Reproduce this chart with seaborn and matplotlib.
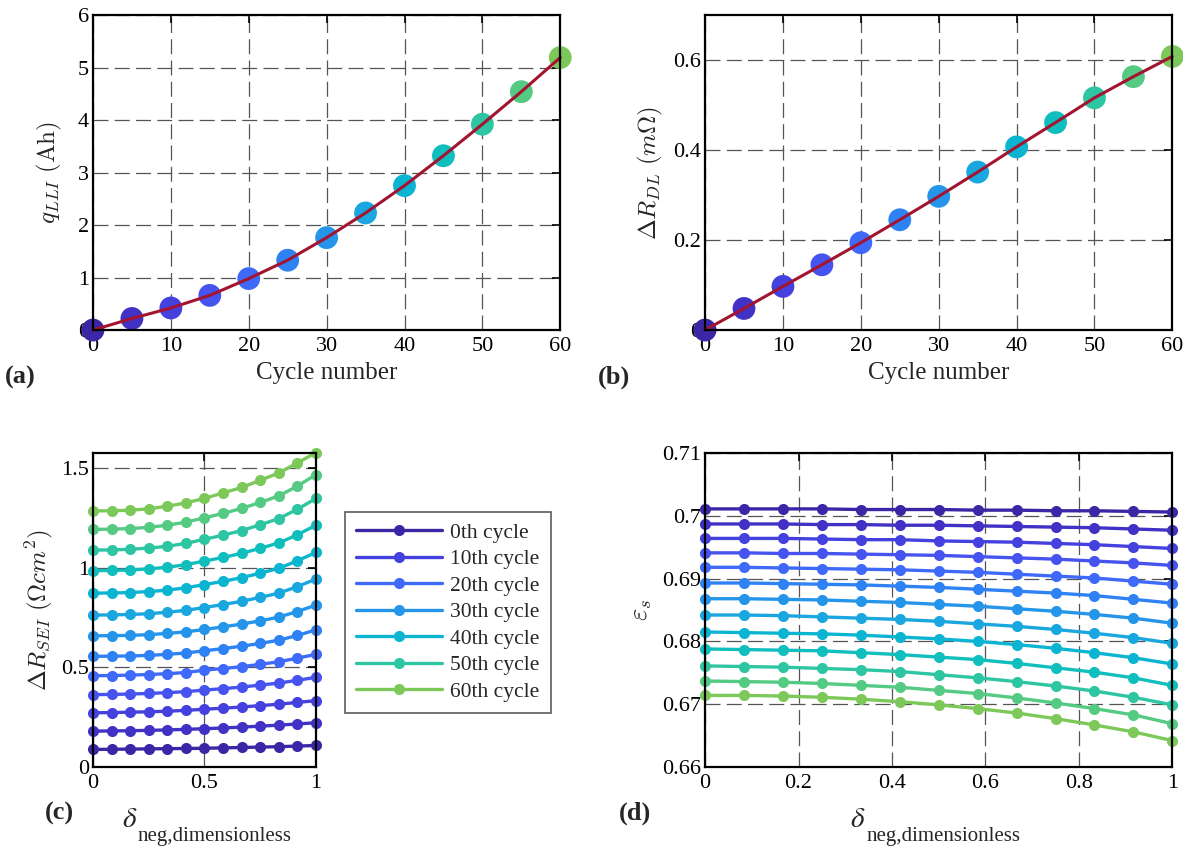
import numpy as np
import pandas as pd
import matplotlib
matplotlib.use("Agg")
import matplotlib.pyplot as plt
import seaborn as sns

# ---------------- data ----------------
cycles = [0, 5, 10, 15, 20, 25, 30, 35, 40, 45, 50, 55, 60]
q_lli = [0.0, 0.22, 0.42, 0.66, 0.98, 1.33, 1.76, 2.23, 2.75, 3.32, 3.92, 4.54, 5.19]
dR_dl = [0.0, 0.048, 0.097, 0.145, 0.194, 0.245, 0.297, 0.351, 0.407, 0.461, 0.516, 0.563, 0.608]

delta_neg = [0, 1/12, 2/12, 3/12, 4/12, 5/12, 6/12, 7/12, 8/12, 9/12, 10/12, 11/12, 1]

dR_sei = {
    0:  [0.088, 0.089, 0.090, 0.091, 0.092, 0.093, 0.094, 0.096, 0.098, 0.100, 0.102, 0.105, 0.108],
    5:  [0.180, 0.181, 0.182, 0.184, 0.186, 0.189, 0.192, 0.196, 0.200, 0.205, 0.210, 0.216, 0.222],
    10: [0.272, 0.273, 0.275, 0.277, 0.280, 0.284, 0.290, 0.295, 0.301, 0.308, 0.315, 0.324, 0.333],
    15: [0.363, 0.364, 0.366, 0.369, 0.373, 0.378, 0.386, 0.393, 0.401, 0.411, 0.421, 0.435, 0.450],
    20: [0.458, 0.459, 0.461, 0.464, 0.468, 0.474, 0.486, 0.494, 0.503, 0.515, 0.528, 0.546, 0.565],
    25: [0.555, 0.556, 0.557, 0.560, 0.565, 0.572, 0.583, 0.594, 0.606, 0.620, 0.636, 0.660, 0.688],
    30: [0.658, 0.659, 0.660, 0.664, 0.670, 0.678, 0.690, 0.703, 0.717, 0.733, 0.752, 0.780, 0.812],
    35: [0.762, 0.763, 0.765, 0.769, 0.776, 0.786, 0.800, 0.815, 0.831, 0.851, 0.872, 0.905, 0.943],
    40: [0.872, 0.873, 0.875, 0.880, 0.887, 0.899, 0.915, 0.931, 0.950, 0.972, 0.997, 1.034, 1.077],
    45: [0.985, 0.986, 0.988, 0.994, 1.002, 1.015, 1.033, 1.051, 1.072, 1.097, 1.124, 1.165, 1.213],
    50: [1.088, 1.089, 1.092, 1.098, 1.107, 1.122, 1.142, 1.163, 1.186, 1.215, 1.246, 1.293, 1.347],
    55: [1.192, 1.193, 1.196, 1.202, 1.213, 1.228, 1.250, 1.272, 1.297, 1.327, 1.360, 1.409, 1.467],
    60: [1.285, 1.285, 1.288, 1.295, 1.308, 1.325, 1.347, 1.375, 1.402, 1.438, 1.475, 1.525, 1.577],
}

eps_s = {
    0:  [0.7011, 0.7011, 0.7011, 0.7011, 0.7010, 0.7010, 0.7010, 0.7009, 0.7009, 0.7008, 0.7008, 0.7007, 0.7006],
    5:  [0.6987, 0.6987, 0.6987, 0.6986, 0.6986, 0.6985, 0.6985, 0.6984, 0.6983, 0.6982, 0.6981, 0.6979, 0.6977],
    10: [0.6964, 0.6964, 0.6964, 0.6963, 0.6962, 0.6962, 0.6960, 0.6959, 0.6958, 0.6956, 0.6954, 0.6951, 0.6948],
    15: [0.6941, 0.6941, 0.6940, 0.6940, 0.6939, 0.6938, 0.6937, 0.6935, 0.6933, 0.6931, 0.6928, 0.6925, 0.6921],
    20: [0.6918, 0.6918, 0.6917, 0.6916, 0.6915, 0.6914, 0.6912, 0.6910, 0.6907, 0.6904, 0.6901, 0.6896, 0.6891],
    25: [0.6893, 0.6893, 0.6892, 0.6891, 0.6890, 0.6888, 0.6886, 0.6883, 0.6880, 0.6877, 0.6873, 0.6867, 0.6861],
    30: [0.6868, 0.6868, 0.6867, 0.6866, 0.6864, 0.6862, 0.6859, 0.6856, 0.6852, 0.6848, 0.6843, 0.6837, 0.6829],
    35: [0.6842, 0.6842, 0.6841, 0.6839, 0.6837, 0.6835, 0.6832, 0.6828, 0.6824, 0.6819, 0.6813, 0.6806, 0.6797],
    40: [0.6815, 0.6814, 0.6813, 0.6812, 0.6810, 0.6807, 0.6804, 0.6800, 0.6795, 0.6789, 0.6782, 0.6774, 0.6764],
    45: [0.6788, 0.6787, 0.6786, 0.6785, 0.6782, 0.6779, 0.6775, 0.6771, 0.6765, 0.6758, 0.6751, 0.6742, 0.6730],
    50: [0.6761, 0.6760, 0.6759, 0.6757, 0.6755, 0.6752, 0.6747, 0.6742, 0.6736, 0.6729, 0.6721, 0.6711, 0.6699],
    55: [0.6737, 0.6736, 0.6735, 0.6733, 0.6730, 0.6727, 0.6722, 0.6717, 0.6710, 0.6702, 0.6693, 0.6683, 0.6669],
    60: [0.6714, 0.6714, 0.6713, 0.6711, 0.6708, 0.6704, 0.6699, 0.6693, 0.6686, 0.6677, 0.6667, 0.6656, 0.6642],
}

legend_cycles = [0, 10, 20, 30, 40, 50, 60]
legend_labels = ["0th cycle", "10th cycle", "20th cycle", "30th cycle",
                 "40th cycle", "50th cycle", "60th cycle"]

colors = ["#3b27a6", "#4131c4", "#4541de", "#4653ef", "#3f69f9", "#2f82f4", "#2595e9",
          "#1aa7df", "#0bb5d2", "#10bebd", "#2ec5a2", "#55ca83", "#7cc95a"]
palette = dict(zip(cycles, colors))
line_red = "#a2142f"

# ---------------- style ----------------
sns.set_style("white")
plt.rcParams["font.family"] = ["Liberation Serif", "DejaVu Serif"]
plt.rcParams["axes.linewidth"] = 1.5
plt.rcParams["xtick.direction"] = "in"
plt.rcParams["ytick.direction"] = "in"

TICK_FS = 16
LAB_FS = 18

fig = plt.figure(figsize=(11.83, 8.48), dpi=100)
W = 0.395
axA = fig.add_axes([0.0786, 0.6108, W, 0.3715])
axB = fig.add_axes([0.596, 0.6108, W, 0.3715])
axC = fig.add_axes([0.0786, 0.0955, 0.1885, 0.3703])
axD = fig.add_axes([0.596, 0.0955, W, 0.3703])


def style_axes(ax):
    ax.grid(True, color="#555555", linestyle=(0, (12, 5)), linewidth=0.9)
    ax.set_axisbelow(True)
    for s in ax.spines.values():
        s.set_color("black")
        s.set_linewidth(1.6)
        s.set_zorder(5)
    ax.tick_params(axis="both", which="both", direction="in", length=6, width=1.2,
                   top=True, right=True, labelsize=TICK_FS, pad=5, colors="black")
    ax.tick_params(axis="y", pad=3)


def delta_label(ax, dx):
    # delta symbol with a lowered upright subscript (MATLAB tex style)
    ax.annotate(r"$\delta$", xy=(0.5, 0), xycoords="axes fraction",
                xytext=(dx, -38), textcoords="offset points", ha="right", va="center",
                fontsize=21, math_fontfamily="stix")
    ax.annotate("neg,dimensionless", xy=(0.5, 0), xycoords="axes fraction",
                xytext=(dx + 0.5, -50), textcoords="offset points", ha="left", va="center",
                fontsize=15)


# ---------------- (a) & (b) ----------------
dfa = pd.DataFrame({"cycle": cycles, "q": q_lli, "r": dR_dl})
for ax, col in ((axA, "q"), (axB, "r")):
    sns.scatterplot(data=dfa, x="cycle", y=col, hue="cycle", palette=palette, s=270,
                    edgecolor="none", legend=False, ax=ax, clip_on=False, zorder=3)
    sns.lineplot(data=dfa, x="cycle", y=col, color=line_red, linewidth=2.2, ax=ax,
                 zorder=4, clip_on=False)
    style_axes(ax)
    ax.set_xlim(0, 60)
    ax.set_xticks(range(0, 61, 10))
    ax.set_xlabel("Cycle number", fontsize=LAB_FS, labelpad=4)

axA.set_ylim(0, 6)
axA.set_yticks(range(0, 7))
axA.set_yticklabels([str(i) for i in range(7)])
axA.set_ylabel(r"$q_{LLI}\ (\mathrm{Ah})$", fontsize=LAB_FS, math_fontfamily="cm", labelpad=10)

axB.set_ylim(0, 0.7)
axB.set_yticks([0, 0.2, 0.4, 0.6])
axB.set_yticklabels(["0", "0.2", "0.4", "0.6"])
axB.set_ylabel(r"$\Delta R_{DL}\ (m\Omega)$", fontsize=LAB_FS, math_fontfamily="cm", labelpad=6)

# ---------------- (c) & (d) ----------------
rows_c = []
rows_d = []
for c in cycles:
    for x, v1, v2 in zip(delta_neg, dR_sei[c], eps_s[c]):
        rows_c.append({"delta": x, "val": v1, "cycle": c})
        rows_d.append({"delta": x, "val": v2, "cycle": c})
dfc = pd.DataFrame(rows_c)
dfd = pd.DataFrame(rows_d)

for ax, df, dx in ((axC, dfc, -48.5), (axD, dfd, -52.5)):
    sns.lineplot(data=df, x="delta", y="val", hue="cycle", palette=palette, marker="o",
                 markersize=8, markeredgewidth=0, linewidth=2.4, legend=False, ax=ax,
                 clip_on=False, zorder=3)
    style_axes(ax)
    ax.set_xlim(0, 1)
    ax.set_xlabel("")
    delta_label(ax, dx)

axC.set_ylim(0, 1.575)
axC.set_yticks([0, 0.5, 1, 1.5])
axC.set_yticklabels(["0", "0.5", "1", "1.5"])
axC.set_xticks([0, 0.5, 1])
axC.set_xticklabels(["0", "0.5", "1"])
axC.set_ylabel(r"$\Delta R_{SEI}\ (\Omega cm^2)$", fontsize=LAB_FS, math_fontfamily="cm", labelpad=4)

axD.set_ylim(0.66, 0.71)
axD.set_yticks([0.66, 0.67, 0.68, 0.69, 0.70, 0.71])
axD.set_yticklabels(["0.66", "0.67", "0.68", "0.69", "0.7", "0.71"])
axD.set_xticks([0, 0.2, 0.4, 0.6, 0.8, 1])
axD.set_xticklabels(["0", "0.2", "0.4", "0.6", "0.8", "1"])
axD.set_ylabel(r"$\varepsilon_s$", fontsize=19, math_fontfamily="cm", labelpad=6)

# legend (lines of the (c) panel, in hue order)
lines_c = [l for l in axC.get_lines()]
handles = [lines_c[cycles.index(c)] for c in legend_cycles]
leg = fig.legend(handles, legend_labels, loc="upper left", bbox_to_anchor=(0.2916, 0.3962),
                 bbox_transform=fig.transFigure, fontsize=15.5, frameon=True, fancybox=False,
                 handlelength=4.0, handletextpad=0.4, labelspacing=0.3, borderpad=0.5,
                 borderaxespad=0)
leg.get_frame().set_edgecolor("#333333")
leg.get_frame().set_linewidth(1.2)

# panel tags
for txt, x, y in (("(a)", 0.004, 0.5554), ("(b)", 0.5055, 0.5554),
                  ("(c)", 0.038, 0.0413), ("(d)", 0.523, 0.0413)):
    fig.text(x, y, txt, fontsize=19, fontweight="bold", va="center", ha="left")

fig.savefig("out.png", dpi=100)
